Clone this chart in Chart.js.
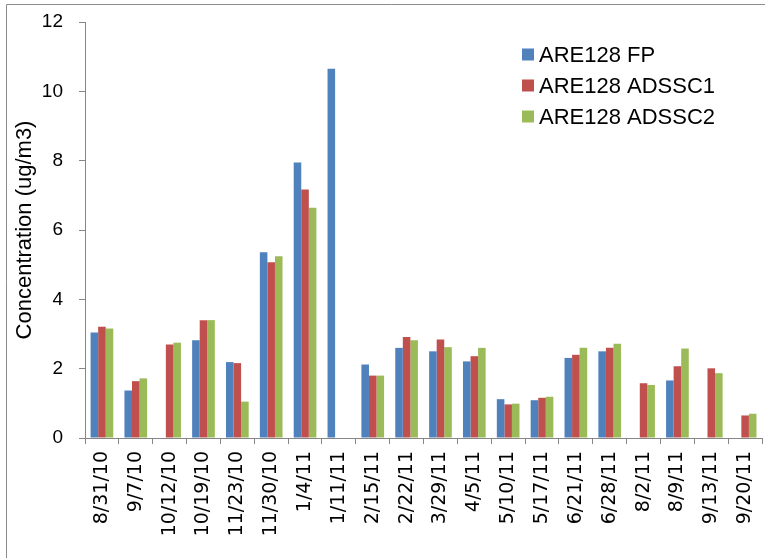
<!DOCTYPE html>
<html>
<head>
<meta charset="utf-8">
<title>ARE128 concentration</title>
<script src="https://cdn.jsdelivr.net/npm/chart.js@4.4.1/dist/chart.umd.min.js"></script>
<style>
  html, body { margin: 0; padding: 0; overflow: hidden; background: #ffffff; }
  #wrap { position: absolute; left: 0; top: 0; width: 775px; height: 558px; }
</style>
</head>
<body>
<div id="wrap"><canvas id="chart" width="775" height="558"></canvas></div>
<script>
// Sampling dates
const categories = ['8/31/10', '9/7/10', '10/12/10', '10/19/10', '11/23/10', '11/30/10', '1/4/11',
  '1/11/11', '2/15/11', '2/22/11', '3/29/11', '4/5/11', '5/10/11', '5/17/11', '6/21/11',
  '6/28/11', '8/2/11', '8/9/11', '9/13/11', '9/20/11'];

// Concentrations in ug/m3 (null = no sample)
const fpValues = [3.04, 1.37, null, 2.82, 2.19, 5.36, 7.95, 10.65, 2.12, 2.60,
  2.50, 2.21, 1.12, 1.09, 2.31, 2.50, null, 1.66, null, null];
const adssc1Values = [3.21, 1.64, 2.70, 3.40, 2.16, 5.07, 7.17, null, 1.80, 2.91,
  2.84, 2.36, 0.97, 1.16, 2.40, 2.60, 1.58, 2.07, 2.01, 0.65];
const adssc2Values = [3.16, 1.72, 2.75, 3.40, 1.05, 5.24, 6.64, null, 1.80, 2.82,
  2.62, 2.60, 0.99, 1.19, 2.60, 2.72, 1.53, 2.58, 1.87, 0.70];

const seriesNames = ['ARE128 FP', 'ARE128 ADSSC1', 'ARE128 ADSSC2'];
const yTicks = [0, 2, 4, 6, 8, 10, 12];

const seriesColors = ['#4F81BD', '#C0504D', '#9BBB59'];
const axisColor = '#868686';

// Outer frame of the chart object
const framePlugin = {
  id: 'frame',
  beforeDraw(chart) {
    const ctx = chart.ctx;
    ctx.save();
    ctx.strokeStyle = '#8c8c8c';
    ctx.lineWidth = 1;
    ctx.beginPath();
    ctx.moveTo(6.5, chart.height + 10);
    ctx.lineTo(6.5, 4.5);
    ctx.lineTo(chart.width + 10, 4.5);
    ctx.stroke();
    ctx.restore();
  }
};

// Legend drawn inside the plot, upper right
const insetLegend = {
  id: 'insetLegend',
  afterDraw(chart) {
    const ctx = chart.ctx;
    ctx.save();
    ctx.font = '22px "Liberation Sans", Arial, sans-serif';
    ctx.textBaseline = 'middle';
    ctx.textAlign = 'left';
    chart.data.datasets.forEach((ds, i) => {
      const cy = 54.5 + i * 31;
      ctx.fillStyle = ds.backgroundColor;
      ctx.fillRect(522, cy - 6, 12, 12);
      ctx.fillStyle = '#000000';
      ctx.fillText(ds.label, 539, cy + 1);
    });
    ctx.restore();
  }
};

const series = [fpValues, adssc1Values, adssc2Values];

new Chart(document.getElementById('chart'), {
  type: 'bar',
  data: {
    labels: categories,
    datasets: series.map((vals, i) => ({
      label: seriesNames[i],
      data: vals,
      backgroundColor: seriesColors[i],
      borderWidth: 0,
      categoryPercentage: 0.67,
      barPercentage: 1.0
    }))
  },
  options: {
    responsive: false,
    animation: false,
    devicePixelRatio: 1,
    layout: { padding: { top: 22, left: 0, right: 3, bottom: 0 } },
    plugins: {
      legend: { display: false },
      tooltip: { enabled: false }
    },
    scales: {
      x: {
        grid: {
          display: true,
          drawOnChartArea: false,
          drawTicks: true,
          tickLength: 6,
          color: axisColor,
          offset: true
        },
        border: { display: true, color: axisColor, width: 1 },
        ticks: {
          autoSkip: false,
          minRotation: 90,
          maxRotation: 90,
          padding: 7,
          color: '#000000',
          font: { family: '"DejaVu Sans", sans-serif', size: 19 }
        },
        afterFit(scale) { scale.height = 120; }
      },
      y: {
        min: 0,
        max: 12,
        afterBuildTicks(scale) { scale.ticks = yTicks.map(v => ({ value: v })); },
        grid: {
          display: true,
          drawOnChartArea: false,
          drawTicks: true,
          tickLength: 6,
          color: axisColor
        },
        border: { display: true, color: axisColor, width: 1 },
        ticks: {
          padding: 16,
          color: '#000000',
          font: { family: '"Liberation Sans", Arial, sans-serif', size: 19 }
        },
        title: {
          display: true,
          text: 'Concentration (ug/m3)',
          color: '#000000',
          padding: { top: 12, bottom: 0 },
          font: { family: '"Liberation Sans", Arial, sans-serif', size: 22 }
        },
        afterFit(scale) {
          scale.width = 85;
          scale.paddingTop = 0;
          scale.paddingBottom = 0;
        }
      }
    }
  },
  plugins: [framePlugin, insetLegend]
});
</script>
</body>
</html>
